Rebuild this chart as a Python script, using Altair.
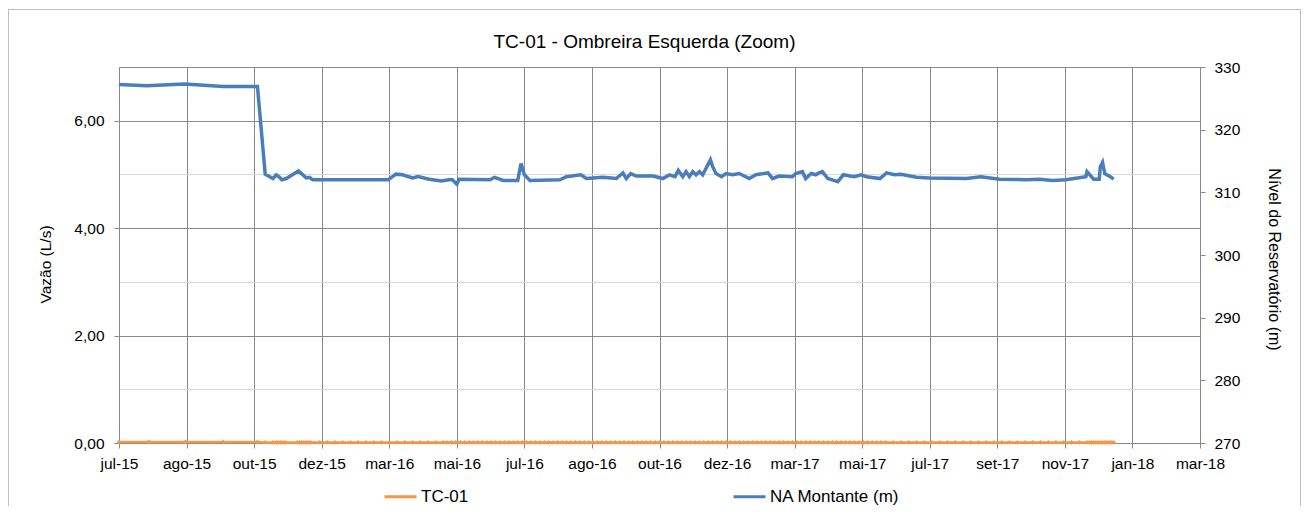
import altair as alt
import pandas as pd

# ---------------- data ----------------
tick_dates = ["2015-07-01", "2015-08-31", "2015-10-31", "2015-12-31", "2016-03-01",
              "2016-05-01", "2016-07-01", "2016-08-31", "2016-10-31", "2016-12-31",
              "2017-03-02", "2017-05-02", "2017-07-02", "2017-09-01", "2017-11-01",
              "2018-01-01", "2018-03-03"]
month_names = ["jan", "fev", "mar", "abr", "mai", "jun", "jul", "ago", "set", "out", "nov", "dez"]

left_ticks = [0, 1, 2, 3, 4, 5, 6, 7]
right_ticks = [270, 280, 290, 300, 310, 320, 330]

na_dates = [
    "2015-07-01", "2015-07-26", "2015-08-29", "2015-10-03", "2015-11-03", "2015-11-10", "2015-11-17", "2015-11-20", "2015-11-23", "2015-11-25",
    "2015-11-29", "2015-12-10", "2015-12-17", "2015-12-20", "2015-12-23", "2016-02-29", "2016-03-07", "2016-03-13", "2016-03-22", "2016-03-27",
    "2016-04-06", "2016-04-17", "2016-04-24", "2016-04-27", "2016-05-01", "2016-05-03", "2016-05-31", "2016-06-04", "2016-06-12", "2016-06-25",
    "2016-06-28", "2016-07-01", "2016-07-06", "2016-08-02", "2016-08-08", "2016-08-21", "2016-08-26", "2016-09-10", "2016-09-22", "2016-09-28",
    "2016-10-01", "2016-10-05", "2016-10-10", "2016-10-25", "2016-11-03", "2016-11-09", "2016-11-14", "2016-11-17", "2016-11-21", "2016-11-24",
    "2016-11-27", "2016-11-30", "2016-12-03", "2016-12-06", "2016-12-09", "2016-12-16", "2016-12-18", "2016-12-21", "2016-12-26", "2016-12-30",
    "2017-01-05", "2017-01-11", "2017-01-20", "2017-01-26", "2017-02-06", "2017-02-10", "2017-02-16", "2017-02-28", "2017-03-03", "2017-03-09",
    "2017-03-12", "2017-03-17", "2017-03-21", "2017-03-24", "2017-03-27", "2017-04-01", "2017-04-05", "2017-04-10", "2017-04-15", "2017-04-21",
    "2017-04-25", "2017-05-01", "2017-05-06", "2017-05-18", "2017-05-24", "2017-05-31", "2017-06-06", "2017-06-20", "2017-07-02", "2017-08-04",
    "2017-08-17", "2017-09-03", "2017-09-27", "2017-10-09", "2017-10-21", "2017-11-02", "2017-11-20", "2017-11-21", "2017-11-27", "2017-12-02",
    "2017-12-03", "2017-12-05", "2017-12-07", "2017-12-12", "2017-12-15",
]
na_levels = [
    327.2, 327.0, 327.3, 326.9, 326.9, 312.9, 312.2, 312.8, 312.4, 312.0,
    312.2, 313.4, 312.3, 312.4, 312.0, 312.0, 312.9, 312.8, 312.3, 312.5,
    312.1, 311.8, 312.0, 312.0, 311.3, 312.1, 312.0, 312.4, 311.9, 311.9,
    314.6, 312.8, 311.9, 312.0, 312.5, 312.8, 312.2, 312.4, 312.2, 313.1,
    312.2, 313.0, 312.6, 312.6, 312.2, 312.8, 312.5, 313.5, 312.5, 313.3,
    312.5, 313.3, 312.8, 313.3, 312.8, 315.2, 314.1, 313.0, 312.5, 313.0,
    312.8, 313.0, 312.2, 312.8, 313.1, 312.2, 312.6, 312.5, 313.0, 313.3,
    312.2, 313.0, 312.8, 313.1, 313.3, 312.2, 312.0, 311.7, 312.8, 312.6,
    312.5, 312.8, 312.5, 312.2, 313.1, 312.8, 312.9, 312.4, 312.3, 312.2,
    312.5, 312.1, 312.0, 312.1, 311.9, 312.0, 312.5, 313.3, 312.1, 312.1,
    314.1, 314.8, 313.0, 312.5, 312.1,
]

tc_dates = [
    "2015-07-01", "2015-07-28", "2015-08-30", "2015-10-03", "2015-11-03", "2015-11-10", "2015-11-17", "2015-11-20", "2015-11-22", "2015-11-24",
    "2015-11-26", "2015-11-28", "2015-12-09", "2015-12-11", "2015-12-13", "2015-12-15", "2015-12-17", "2015-12-19", "2015-12-21", "2015-12-29",
    "2016-01-05", "2016-01-12", "2016-01-19", "2016-01-26", "2016-02-02", "2016-02-09", "2016-02-16", "2016-02-23", "2016-03-01", "2016-03-08",
    "2016-03-15", "2016-03-22", "2016-03-29", "2016-04-05", "2016-04-12", "2016-04-19", "2016-04-22", "2016-04-26", "2016-04-30", "2016-05-04",
    "2016-05-08", "2016-05-12", "2016-05-16", "2016-05-20", "2016-05-24", "2016-05-28", "2016-06-01", "2016-06-05", "2016-06-09", "2016-06-13",
    "2016-06-17", "2016-06-21", "2016-06-25", "2016-06-29", "2016-07-03", "2016-07-07", "2016-07-11", "2016-07-15", "2016-07-19", "2016-07-23",
    "2016-07-27", "2016-07-31", "2016-08-04", "2016-08-08", "2016-08-12", "2016-08-16", "2016-08-20", "2016-08-24", "2016-08-28", "2016-09-01",
    "2016-09-05", "2016-09-09", "2016-09-13", "2016-09-17", "2016-09-21", "2016-09-25", "2016-09-29", "2016-10-03", "2016-10-07", "2016-10-11",
    "2016-10-15", "2016-10-19", "2016-10-23", "2016-10-27", "2016-10-31", "2016-11-04", "2016-11-08", "2016-11-12", "2016-11-16", "2016-11-20",
    "2016-11-24", "2016-11-28", "2016-12-02", "2016-12-06", "2016-12-10", "2016-12-14", "2016-12-18", "2016-12-22", "2016-12-26", "2016-12-30",
    "2017-01-03", "2017-01-07", "2017-01-11", "2017-01-15", "2017-01-19", "2017-01-23", "2017-01-27", "2017-01-31", "2017-02-04", "2017-02-08",
    "2017-02-12", "2017-02-16", "2017-02-20", "2017-02-24", "2017-02-28", "2017-03-04", "2017-03-08", "2017-03-12", "2017-03-16", "2017-03-20",
    "2017-03-24", "2017-03-28", "2017-04-01", "2017-04-05", "2017-04-09", "2017-04-13", "2017-04-17", "2017-04-21", "2017-04-25", "2017-04-29",
    "2017-05-03", "2017-05-07", "2017-05-11", "2017-05-15", "2017-05-19", "2017-05-23", "2017-05-30", "2017-06-06", "2017-06-13", "2017-06-20",
    "2017-06-27", "2017-07-04", "2017-07-11", "2017-07-18", "2017-07-25", "2017-08-01", "2017-08-08", "2017-08-15", "2017-08-22", "2017-08-29",
    "2017-09-05", "2017-09-12", "2017-09-19", "2017-09-26", "2017-10-03", "2017-10-10", "2017-10-17", "2017-10-24", "2017-10-31", "2017-11-07",
    "2017-11-14", "2017-11-21", "2017-11-23", "2017-11-25", "2017-11-27", "2017-11-29", "2017-12-01", "2017-12-03", "2017-12-05", "2017-12-07",
    "2017-12-09", "2017-12-11", "2017-12-13", "2017-12-15",
]
tc_values = [
    0.02, 0.02, 0.02, 0.02, 0.02, 0.01, 0.01, 0.01, 0.01, 0.01,
    0.01, 0.01, 0.01, 0.01, 0.01, 0.01, 0.01, 0.01, 0.01, 0.01,
    0.01, 0.01, 0.01, 0.01, 0.01, 0.01, 0.01, 0.01, 0.01, 0.01,
    0.01, 0.01, 0.01, 0.01, 0.01, 0.01, 0.01, 0.01, 0.01, 0.01,
    0.01, 0.01, 0.01, 0.01, 0.01, 0.01, 0.01, 0.01, 0.01, 0.01,
    0.01, 0.01, 0.01, 0.01, 0.01, 0.01, 0.01, 0.01, 0.01, 0.01,
    0.01, 0.01, 0.01, 0.01, 0.01, 0.01, 0.01, 0.01, 0.01, 0.01,
    0.01, 0.01, 0.01, 0.01, 0.01, 0.01, 0.01, 0.01, 0.01, 0.01,
    0.01, 0.01, 0.01, 0.01, 0.01, 0.01, 0.01, 0.01, 0.01, 0.01,
    0.01, 0.01, 0.01, 0.01, 0.01, 0.01, 0.01, 0.01, 0.01, 0.01,
    0.01, 0.01, 0.01, 0.01, 0.01, 0.01, 0.01, 0.01, 0.01, 0.01,
    0.01, 0.01, 0.01, 0.01, 0.01, 0.01, 0.01, 0.01, 0.01, 0.01,
    0.01, 0.01, 0.01, 0.01, 0.01, 0.01, 0.01, 0.01, 0.01, 0.01,
    0.01, 0.01, 0.01, 0.01, 0.01, 0.01, 0.01, 0.01, 0.01, 0.01,
    0.01, 0.01, 0.01, 0.01, 0.01, 0.01, 0.01, 0.01, 0.01, 0.01,
    0.01, 0.01, 0.01, 0.01, 0.01, 0.01, 0.01, 0.01, 0.01, 0.01,
    0.01, 0.01, 0.01, 0.01, 0.01, 0.01, 0.01, 0.01, 0.01, 0.01,
    0.01, 0.01, 0.01, 0.01,
]

series_names = ["TC-01", "NA Montante (m)"]

# ---------------- style ----------------
FONT = "Liberation Sans"
ORANGE = "#F79646"
BLUE = "#4A7EBB"
GRID_DARK = "#898989"
GRID_LIGHT = "#D9D9D9"
W, H = 1081, 376


def dt(s):
    y, m, d = (int(p) for p in s.split("-"))
    return alt.DateTime(year=y, month=m, date=d, utc=True)


tc = pd.DataFrame({"data": tc_dates, "vazao": tc_values, "serie": series_names[0]})
na = pd.DataFrame({"data": na_dates, "nivel": na_levels, "serie": series_names[1]})

months_js = "[" + ",".join("'%s'" % m for m in month_names) + "]"

x_enc = alt.X(
    "data:T",
    title=None,
    scale=alt.Scale(type="utc", domain=[dt(tick_dates[0]), dt(tick_dates[-1])]),
    axis=alt.Axis(
        values=[dt(s) for s in tick_dates],
        labelExpr=months_js + "[utcmonth(datum.value)] + '-' + utcFormat(datum.value, '%y')",
        grid=True, gridColor=GRID_DARK, gridWidth=1,
        domainColor=GRID_DARK, tickColor=GRID_DARK, tickSize=5,
        labelPadding=8, labelFont=FONT, labelFontSize=15.5, labelColor="#000000",
        labelFlush=False, labelOverlap=False, labelBound=False,
    ),
)

color_enc = alt.Color(
    "serie:N",
    scale=alt.Scale(domain=series_names, range=[ORANGE, BLUE]),
    legend=alt.Legend(
        title=None, orient="none", legendX=264, legendY=412, direction="horizontal",
        symbolType="stroke", symbolSize=1024, symbolStrokeWidth=3,
        labelFont=FONT, labelFontSize=17, labelColor="#000000", labelOffset=3,
        columnPadding=258, padding=0,
    ),
)

left_axis = alt.Axis(
    orient="left", values=left_ticks,
    labelExpr="datum.value % 2 == 0 && datum.value < 7 ? replace(format(datum.value, '.2f'), '.', ',') : ''",
    grid=True,
    gridColor={"condition": {"test": "datum.value % 2 == 1 && datum.value < 7", "value": GRID_LIGHT}, "value": GRID_DARK},
    tickColor={"condition": {"test": "datum.value % 2 == 1", "value": "transparent"}, "value": GRID_DARK},
    domainColor=GRID_DARK, tickSize=5, labelPadding=10,
    labelFont=FONT, labelFontSize=15.5, labelColor="#000000",
    title="Vazão (L/s)", titleFont=FONT, titleFontSize=15.5, titleFontWeight="normal",
    titleColor="#000000", titleAngle=270, titleX=-74, titleY=197,
    titleAlign="center", titleBaseline="middle",
)

right_axis = alt.Axis(
    orient="right", values=right_ticks, format="d", grid=False,
    domainColor=GRID_DARK, tickColor=GRID_DARK, tickSize=5, labelPadding=9,
    labelFont=FONT, labelFontSize=15.5, labelColor="#000000",
    title="Nível do Reservatório (m)", titleFont=FONT, titleFontSize=16, titleFontWeight="normal",
    titleColor="#000000", titleAngle=90, titleX=73, titleY=192,
    titleAlign="center", titleBaseline="middle",
)

frame = alt.Chart(alt.Data(values=[{}])).mark_rect(
    fill="transparent", stroke="#BFBFBF", strokeWidth=1
).encode(
    x=alt.value(-110.5), x2=alt.value(1181.5), y=alt.value(-57.5), y2=alt.value(470)
)

tc_line = alt.Chart(tc).mark_line(strokeWidth=2.5).encode(
    x=x_enc,
    y=alt.Y("vazao:Q", scale=alt.Scale(domain=[0, 7], nice=False), axis=left_axis),
    color=color_enc,
)

tc_pts = alt.Chart(tc).mark_point(shape="diamond", filled=True, size=22, opacity=1, color=ORANGE).encode(
    x=x_enc,
    y=alt.Y("vazao:Q", scale=alt.Scale(domain=[0, 7], nice=False), axis=None),
)

na_line = alt.Chart(na).mark_line(strokeWidth=3.5).encode(
    x=x_enc,
    y=alt.Y("nivel:Q", scale=alt.Scale(domain=[270, 330], nice=False, zero=False), axis=right_axis),
    color=color_enc,
)

chart = alt.layer(frame, tc_line, tc_pts, na_line).resolve_scale(
    y="independent"
).properties(
    width=W, height=H,
    autosize=alt.AutoSizeParams(type="none"),
    padding={"left": 111, "top": 59, "right": 101, "bottom": 63},
    title=alt.TitleParams(
        "TC-01 - Ombreira Esquerda (Zoom)", font=FONT, fontSize=19, fontWeight="normal",
        color="#000000", anchor="middle", frame="group", offset=-57.5, baseline="alphabetic", dx=-15,
    ),
).configure_view(stroke=None).configure(background="white")

chart.save("out.html", embed_options={"renderer": "svg", "actions": False})
